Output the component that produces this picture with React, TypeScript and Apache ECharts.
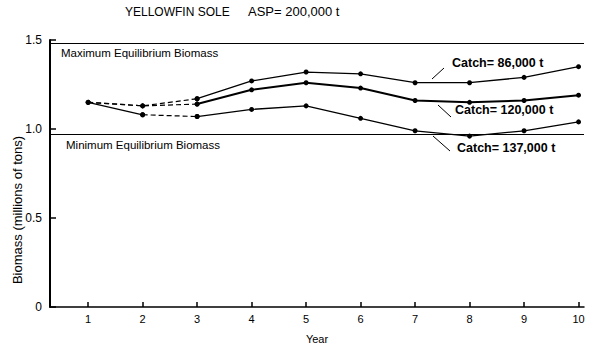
import React, { useEffect, useRef } from "react";
import * as echarts from "echarts";

const years = [1, 2, 3, 4, 5, 6, 7, 8, 9, 10];
const catch86 = [1.15, 1.13, 1.17, 1.27, 1.32, 1.31, 1.26, 1.26, 1.29, 1.35];
const catch120 = [1.15, 1.13, 1.14, 1.22, 1.26, 1.23, 1.16, 1.15, 1.16, 1.19];
const catch137 = [1.15, 1.08, 1.07, 1.11, 1.13, 1.06, 0.99, 0.96, 0.99, 1.04];
const yTicks = [0, 0.5, 1.0, 1.5];
const maxEquilibrium = 1.48;
const minEquilibrium = 0.97;

const FONT = "'Liberation Sans', Arial, sans-serif";

function pts(values: number[], from: number, to: number) {
  const out: number[][] = [];
  for (let i = from; i <= to; i++) out.push([years[i], values[i]]);
  return out;
}

function lineSeries(data: number[][], width: number, dashed: boolean) {
  return {
    type: "line",
    data,
    symbol: "circle",
    symbolSize: 5,
    itemStyle: { color: "#000" },
    lineStyle: { color: "#000", width, type: dashed ? [5, 3] : "solid" },
    z: 3,
  };
}

export default function App() {
  const ref = useRef<HTMLDivElement>(null);
  useEffect(() => {
    if (!ref.current) return;
    const chart = echarts.init(ref.current, undefined, { renderer: "svg" });
    chart.setOption({
      animation: false,
      backgroundColor: "#fff",
      textStyle: { fontFamily: FONT },
      grid: { left: 50, right: 16, top: 40, bottom: 37 },
      xAxis: {
        type: "value",
        min: 0.3,
        max: 10.1,
        splitLine: { show: false },
        axisLine: { lineStyle: { color: "#000", width: 1.5 } },
        axisTick: { inside: true, length: 5, customValues: years, lineStyle: { color: "#000", width: 1.5 } },
        axisLabel: { customValues: years, color: "#000", fontSize: 11, margin: 6, fontFamily: FONT },
        name: "Year",
        nameLocation: "middle",
        nameGap: 26,
        nameTextStyle: { color: "#000", fontSize: 11, fontFamily: FONT },
      },
      yAxis: {
        type: "value",
        min: 0,
        max: 1.5,
        splitLine: { show: false },
        axisLine: { lineStyle: { color: "#000", width: 2 } },
        axisTick: { inside: true, length: 6, customValues: yTicks, lineStyle: { color: "#000", width: 1.5 } },
        axisLabel: {
          customValues: yTicks,
          color: "#000",
          fontSize: 12,
          margin: 8,
          fontFamily: FONT,
          formatter: (v: number) => (v === 0 ? "0" : v.toFixed(1)),
        },
      },
      series: [
        {
          type: "line",
          data: [],
          markLine: {
            silent: true,
            symbol: "none",
            label: { show: false },
            lineStyle: { color: "#000", width: 1.2, type: "solid" },
            data: [{ yAxis: maxEquilibrium }, { yAxis: minEquilibrium }],
          },
        },
        lineSeries(pts(catch86, 0, 2), 1.2, true),
        lineSeries(pts(catch86, 2, 9), 1.3, false),
        lineSeries(pts(catch120, 0, 2), 1.2, true),
        lineSeries(pts(catch120, 2, 9), 2, false),
        lineSeries(pts(catch137, 0, 1), 1.3, false),
        lineSeries(pts(catch137, 1, 2), 1.2, true),
        lineSeries(pts(catch137, 2, 9), 1.3, false),
      ],
      graphic: [
        { type: "text", left: 125, top: 6, style: { text: "YELLOWFIN SOLE", fontSize: 12, fontFamily: FONT, fill: "#000" } },
        { type: "text", left: 248, top: 5, style: { text: "ASP= 200,000 t", fontSize: 13, fontFamily: FONT, fill: "#000" } },
        {
          type: "text",
          x: 17,
          y: 210,
          rotation: Math.PI / 2,
          style: { text: "Biomass (millions of tons)", fontSize: 13, fontFamily: FONT, fill: "#000", align: "center", verticalAlign: "middle" },
        },
        { type: "text", left: 61, top: 47, style: { text: "Maximum Equilibrium Biomass", fontSize: 11.5, fontFamily: FONT, fill: "#000" } },
        { type: "text", left: 66, top: 139, style: { text: "Minimum Equilibrium Biomass", fontSize: 11.5, fontFamily: FONT, fill: "#000" } },
        { type: "text", left: 452, top: 56, style: { text: "Catch= 86,000 t", fontSize: 12.5, fontWeight: "bold", fontFamily: FONT, fill: "#000" } },
        { type: "text", left: 455, top: 103, style: { text: "Catch= 120,000 t", fontSize: 12.5, fontWeight: "bold", fontFamily: FONT, fill: "#000" } },
        { type: "text", left: 457, top: 141, style: { text: "Catch= 137,000 t", fontSize: 12.5, fontWeight: "bold", fontFamily: FONT, fill: "#000" } },
        { type: "line", shape: { x1: 432, y1: 79, x2: 444, y2: 68 }, style: { stroke: "#000", lineWidth: 1 } },
        { type: "line", shape: { x1: 438, y1: 105, x2: 451, y2: 117 }, style: { stroke: "#000", lineWidth: 1 } },
        { type: "line", shape: { x1: 433, y1: 136, x2: 450, y2: 151 }, style: { stroke: "#000", lineWidth: 1 } },
      ],
    });
    return () => chart.dispose();
  }, []);
  return <div ref={ref} style={{ width: 600, height: 349, position: "absolute", left: 0, top: 0 }} />;
}
